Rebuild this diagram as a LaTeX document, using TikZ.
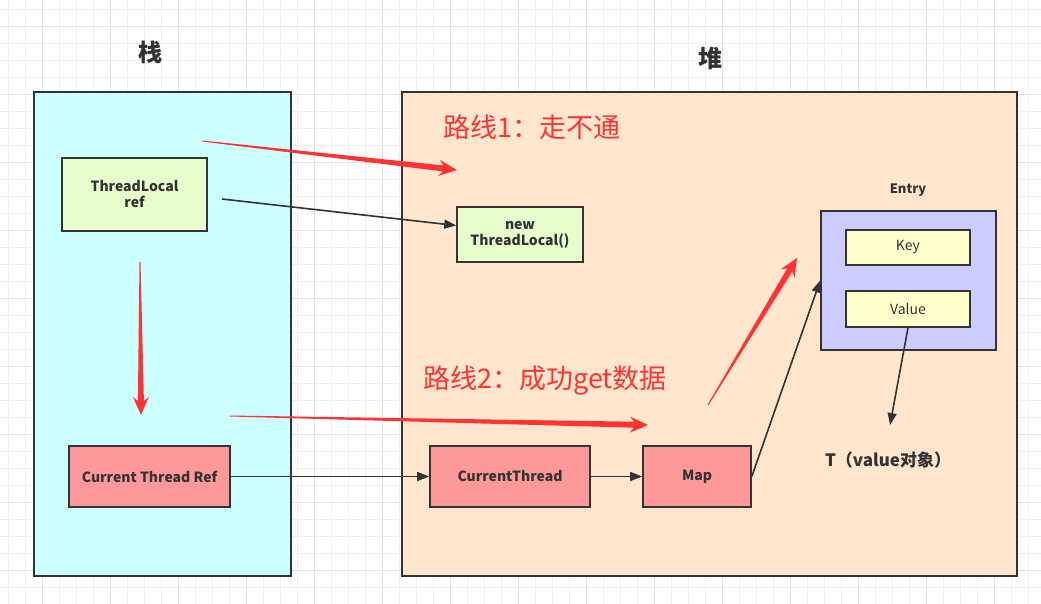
\documentclass[tikz,border=0pt]{standalone}
\usepackage{fontspec}
\setmainfont{Noto Sans CJK SC}
\usepackage{tikz}
\usetikzlibrary{arrows.meta,calc}
\definecolor{InkGray}{HTML}{333333}
\definecolor{GridMinor}{HTML}{EFEFEF}
\definecolor{GridMajor}{HTML}{E2E2E2}
\definecolor{StackCyan}{HTML}{CCFFFF}
\definecolor{HeapPeach}{HTML}{FFE6CC}
\definecolor{RefGreen}{HTML}{E6FFCC}
\definecolor{ThreadPink}{HTML}{FF9999}
\definecolor{EntryLilac}{HTML}{CCCCFF}
\definecolor{KeyYellow}{HTML}{FFFFCC}
\definecolor{RouteRed}{HTML}{FF3333}

% tapered red route arrow from #1 to #2
\newcommand{\routearrow}[2]{%
  \coordinate (rh) at ($(#2)!18pt!(#1)$);
  \coordinate (rb) at ($(#2)!14pt!(#1)$);
  \fill[RouteRed] ($(#1)!0.5pt!90:(#2)$) -- ($(rb)!3pt!90:(#2)$) -- ($(rh)!8pt!90:(#2)$)
    -- (#2) -- ($(rh)!8pt!-90:(#2)$) -- ($(rb)!3pt!-90:(#2)$) -- ($(#1)!0.5pt!-90:(#2)$) -- cycle;}

\begin{document}
\begin{tikzpicture}[x=1pt, y=-1pt,
  every node/.style={font=\fontsize{14}{16}\selectfont\bfseries, text=InkGray, align=center},
  box/.style={draw=InkGray, line width=1.6pt, inner sep=0pt},
  link/.style={draw=InkGray, line width=1.6pt, -{Triangle[length=12pt,width=9pt]}}]
  \useasboundingbox (0,0) rectangle (1041,604);
  \fill[white] (0,0) rectangle (1041,604);
  % grid
  \foreach \gx in {8.5,25.5,...,1041} \draw[GridMinor, line width=0.8pt] (\gx,0) -- (\gx,604);
  \foreach \gy in {9.7,26.7,...,604} \draw[GridMinor, line width=0.8pt] (0,\gy) -- (1041,\gy);
  \foreach \gx in {42.5,110.5,...,1041} \draw[GridMajor, line width=1pt] (\gx,0) -- (\gx,604);
  \foreach \gy in {26.7,94.7,...,604} \draw[GridMajor, line width=1pt] (0,\gy) -- (1041,\gy);

  % stack and heap
  \draw[box, fill=StackCyan] (34,92) rectangle (291,576);
  \draw[box, fill=HeapPeach] (402,92) rectangle (1017,576);
  \node[font=\fontsize{24}{26}\selectfont\bfseries] (stack) at (150,52) {栈};
  \node[font=\fontsize{24}{26}\selectfont\bfseries] (heap) at (710,58) {堆};

  \node[box, fill=RefGreen, minimum width=145pt, minimum height=73pt] (tlref) at (134.5,194.5) {ThreadLocal\\ref};
  \node[box, fill=ThreadPink, minimum width=161pt, minimum height=61pt] (ctref) at (149.5,476.5) {Current Thread Ref};
  \node[box, fill=RefGreen, minimum width=126pt, minimum height=55pt] (newtl) at (520,234.5) {new\\ThreadLocal()};
  \node[box, fill=ThreadPink, minimum width=160pt, minimum height=61pt] (curthr) at (510,476.5) {CurrentThread};
  \node[box, fill=ThreadPink, minimum width=108pt, minimum height=61pt] (map) at (697,476.5) {Map};
  \node[box, fill=EntryLilac, minimum width=175pt, minimum height=139pt] (entry) at (908.5,280.5) {};
  \node[font=\fontsize{13}{15}\selectfont\bfseries] (entrylbl) at (908,190) {Entry};
  \node[box, line width=1.4pt, fill=KeyYellow, minimum width=124pt, minimum height=35pt, font=\fontsize{14}{16}\selectfont] (key) at (908,247.5) {Key};
  \node[box, line width=1.4pt, fill=KeyYellow, minimum width=124pt, minimum height=36pt, font=\fontsize{14}{16}\selectfont] (value) at (908,309) {Value};
  \node[font=\fontsize{17}{19}\selectfont\bfseries] (tval) at (888,460) {T（value对象）};

  \node[font=\fontsize{27}{29}\selectfont, text=RouteRed] (route1) at (532,127) {路线1：走不通};
  \node[font=\fontsize{27}{29}\selectfont, text=RouteRed] (route2) at (545,381) {路线2：成功get数据};

  % connectors
  \coordinate (tlout) at (222,199);
  \coordinate (tin) at (890,425);
  \draw[link] (tlout) -- ([yshift=9pt]newtl.west);
  \draw[link] (ctref) -- (curthr);
  \draw[link] (curthr) -- (map);
  \draw[link] (map.east) -- (entry.west);
  \draw[link] (value.south) -- (tin);

  % red routes
  \coordinate (r1s) at (202,141);  \coordinate (r1e) at (457,170);
  \coordinate (r2s) at (140,262);  \coordinate (r2e) at (141,415);
  \coordinate (r3s) at (230,416);  \coordinate (r3e) at (648,425);
  \coordinate (r4s) at (708,405);  \coordinate (r4e) at (797,258);
  \routearrow{r1s}{r1e}
  \routearrow{r2s}{r2e}
  \routearrow{r3s}{r3e}
  \routearrow{r4s}{r4e}
\end{tikzpicture}
\end{document}
